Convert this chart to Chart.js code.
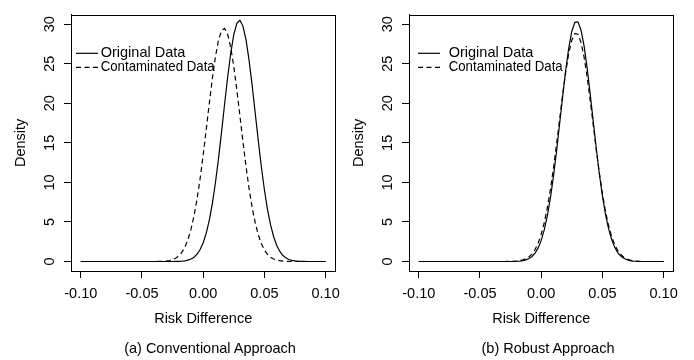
<!DOCTYPE html>
<html>
<head>
<meta charset="utf-8">
<script src="https://cdn.jsdelivr.net/npm/chart.js@4.4.0/dist/chart.umd.min.js"></script>
<style>
  body { margin: 0; background: #fff; width: 694px; height: 360px; position: relative; overflow: hidden;
         font-family: "Liberation Sans", Arial, Helvetica, sans-serif; }
  canvas { position: absolute; top: 0; }
  .caption { position: absolute; top: 340px; width: 300px; text-align: center; font-size: 14.5px; line-height: 17px; color: #000; }
</style>
</head>
<body>
<canvas id="chart-a" width="347" height="360" style="left:0"></canvas>
<canvas id="chart-b" width="347" height="360" style="left:338px"></canvas>
<div class="caption" style="left:60px">(a) Conventional Approach</div>
<div class="caption" style="left:398px">(b) Robust Approach</div>
<script>
// risk difference grid (x values), finer where the curves are
var riskDiff = [-0.1, -0.07, -0.04, -0.0375, -0.035, -0.0325, -0.03, -0.0275, -0.025, -0.0225,
  -0.02, -0.0175, -0.015, -0.0125, -0.01, -0.0075, -0.005, -0.0025, 0, 0.0025,
  0.005, 0.0075, 0.01, 0.0125, 0.015, 0.0175, 0.02, 0.0225, 0.025, 0.0275,
  0.03, 0.0325, 0.035, 0.0375, 0.04, 0.0425, 0.045, 0.0475, 0.05, 0.0525,
  0.055, 0.0575, 0.06, 0.0625, 0.065, 0.0675, 0.07, 0.0725, 0.075, 0.0775,
  0.08, 0.0825, 0.085, 0.1];

// (a) conventional approach
var convOriginal = [0, 0, 0, 0, 0, 0, 0, 0, 0, 0.01,
  0.02, 0.05, 0.09, 0.17, 0.32, 0.55, 0.93, 1.52, 2.37, 3.59,
  5.23, 7.35, 9.96, 13.01, 16.39, 19.91, 23.32, 26.33, 28.67, 30.11,
  30.49, 29.76, 28.01, 25.43, 22.26, 18.78, 15.28, 12.00, 9.07, 6.62,
  4.65, 3.16, 2.06, 1.30, 0.79, 0.46, 0.26, 0.14, 0.08, 0.04,
  0.02, 0.01, 0, 0];
var convContaminated = [0, 0, 0, 0.01, 0.02, 0.04, 0.07, 0.13, 0.24, 0.42,
  0.70, 1.15, 1.81, 2.75, 4.05, 5.76, 7.92, 10.51, 13.47, 16.70,
  20.00, 23.15, 25.89, 27.97, 29.21, 29.47, 28.73, 27.07, 24.64, 21.67,
  18.42, 15.13, 12.01, 9.21, 6.83, 4.89, 3.38, 2.26, 1.46, 0.91,
  0.55, 0.32, 0.18, 0.10, 0.05, 0.03, 0.01, 0, 0, 0,
  0, 0, 0, 0];

// (b) robust approach
var robustOriginal = [0, 0, 0, 0, 0, 0, 0, 0, 0, 0.01,
  0.03, 0.06, 0.11, 0.21, 0.37, 0.64, 1.07, 1.72, 2.67, 3.99,
  5.76, 8.01, 10.73, 13.88, 17.32, 20.82, 24.14, 26.98, 29.08, 30.23,
  30.29, 29.27, 27.28, 24.51, 21.23, 17.74, 14.29, 11.10, 8.31, 6.00,
  4.18, 2.81, 1.82, 1.13, 0.68, 0.40, 0.22, 0.12, 0.06, 0.03,
  0.01, 0, 0, 0];
var robustContaminated = [0, 0, 0, 0, 0, 0, 0, 0.01, 0.02, 0.03,
  0.06, 0.11, 0.20, 0.35, 0.59, 0.96, 1.52, 2.32, 3.43, 4.90,
  6.78, 9.08, 11.76, 14.76, 17.91, 21.03, 23.91, 26.29, 27.98, 28.82,
  28.73, 27.71, 25.87, 23.37, 20.43, 17.28, 14.14, 11.20, 8.59, 6.37,
  4.57, 3.18, 2.14, 1.39, 0.88, 0.53, 0.31, 0.18, 0.10, 0.05,
  0.03, 0.01, 0, 0];

var seriesNames = ['Original Data', 'Contaminated Data'];
var xTickValues = [-0.1, -0.05, 0, 0.05, 0.1];
var yTickValues = [0, 5, 10, 15, 20, 25, 30];

var fontFamily = '"Liberation Sans", Arial, Helvetica, sans-serif';
Chart.defaults.font.family = fontFamily;
Chart.defaults.font.size = 14.5;
Chart.defaults.color = '#000';

function toPoints(values) {
  return riskDiff.map((x, i) => ({ x: x, y: values[i] }));
}

// R style box round the plot region
const boxPlugin = {
  id: 'plotBox',
  afterDraw(chart) {
    const a = chart.chartArea, ctx = chart.ctx;
    const l = Math.round(a.left), t = Math.round(a.top), r = Math.round(a.right), b = Math.round(a.bottom);
    ctx.save();
    ctx.strokeStyle = '#000';
    ctx.lineWidth = 1;
    ctx.strokeRect(l + 0.5, t + 0.5, r - l, b - t);
    ctx.restore();
  }
};

// legend without a frame, line sample then label
const legendPlugin = {
  id: 'rLegend',
  afterDatasetsDraw(chart, args, opts) {
    const ctx = chart.ctx;
    chart.data.datasets.forEach((ds, i) => {
      const y = opts.y + i * opts.rowGap;
      ctx.save();
      ctx.strokeStyle = '#000';
      ctx.lineWidth = ds.borderWidth;
      ctx.setLineDash(ds.borderDash || []);
      ctx.beginPath();
      ctx.moveTo(opts.x, y);
      ctx.lineTo(opts.x + opts.lineLen, y);
      ctx.stroke();
      ctx.setLineDash([]);
      ctx.fillStyle = '#000';
      ctx.font = '14.5px ' + fontFamily;
      ctx.textBaseline = 'middle';
      ctx.fillText(ds.label, opts.textX, y, 114); // the original's label face runs a bit narrower
      ctx.restore();
    });
  }
};

function makeChart(id, original, contaminated, legendPos) {
  const tickGrid = { drawOnChartArea: false, drawTicks: true, tickLength: 7, color: '#000', lineWidth: 1 };
  return new Chart(document.getElementById(id), {
    type: 'line',
    data: {
      datasets: [
        { label: seriesNames[0], data: toPoints(original), borderColor: '#000', borderWidth: 1.2,
          pointRadius: 0, fill: false, tension: 0 },
        { label: seriesNames[1], data: toPoints(contaminated), borderColor: '#000', borderWidth: 1.2,
          borderDash: [5, 3.5], pointRadius: 0, fill: false, tension: 0 }
      ]
    },
    plugins: [boxPlugin, legendPlugin],
    options: {
      responsive: false,
      animation: false,
      events: [],
      layout: { padding: { top: 11, right: 8, left: 0, bottom: 30 } },
      plugins: {
        legend: { display: false },
        tooltip: { enabled: false },
        rLegend: legendPos
      },
      scales: {
        x: {
          type: 'linear', min: -0.108, max: 0.108,
          afterBuildTicks: ax => { ax.ticks = xTickValues.map(v => ({ value: v })); },
          afterFit: ax => { ax.height = 59; },
          ticks: { callback: v => v.toFixed(2), padding: 7, maxRotation: 0, autoSkip: false },
          grid: tickGrid,
          border: { display: true, color: '#000' },
          title: { display: true, text: 'Risk Difference', padding: { top: 0, bottom: 2 } }
        },
        y: {
          type: 'linear', min: -1.2, max: 31.2,
          afterBuildTicks: ax => { ax.ticks = yTickValues.map(v => ({ value: v })); },
          afterFit: ax => { ax.width = 71; },
          ticks: { minRotation: 90, maxRotation: 90, crossAlign: 'center', padding: 6, autoSkip: false },
          grid: tickGrid,
          border: { display: true, color: '#000' },
          title: { display: true, text: 'Density', padding: { top: 12, bottom: 0 } }
        }
      }
    }
  });
}

makeChart('chart-a', convOriginal, convContaminated, { x: 76, lineLen: 22, textX: 100.7, y: 53.3, rowGap: 14 });
makeChart('chart-b', robustOriginal, robustContaminated, { x: 80, lineLen: 22, textX: 110.7, y: 53.3, rowGap: 14 });
</script>
</body>
</html>
